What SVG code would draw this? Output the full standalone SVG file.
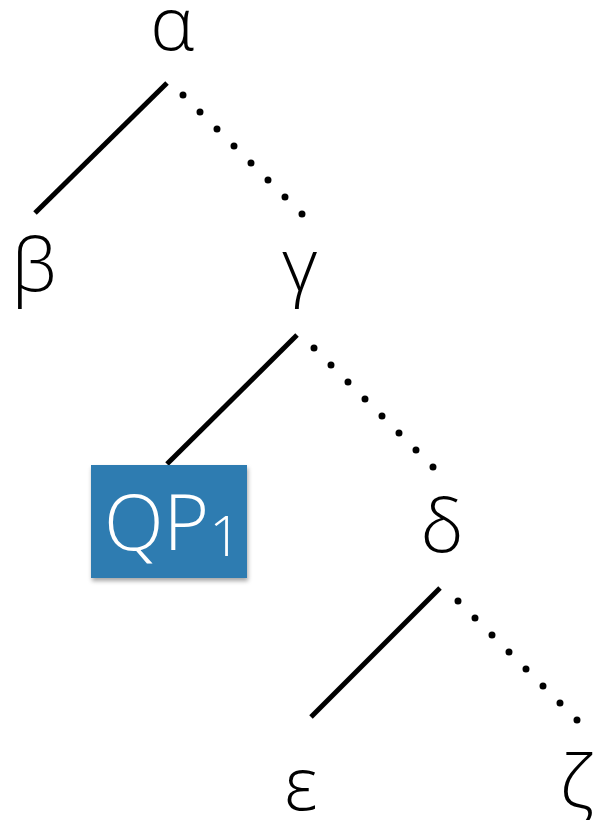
<svg xmlns="http://www.w3.org/2000/svg" width="594" height="820" viewBox="0 0 594 820">
  <style>
    .lbl { font-family: "Open Sans", "Liberation Sans", sans-serif; font-weight: 300; font-size: 74px; fill: #000; text-anchor: middle; }
    .solid { stroke: #000; stroke-width: 5; fill: none; }
    .dots { stroke: #000; stroke-width: 7; stroke-linecap: round; stroke-dasharray: 0 24.04; fill: none; }
    .qp { font-family: "Open Sans", "Liberation Sans", sans-serif; font-weight: 300; fill: #fff; }
  </style>
  <defs>
    <filter id="shadow" x="-10%" y="-10%" width="130%" height="130%">
      <feDropShadow dx="1" dy="3" stdDeviation="2" flood-color="#000" flood-opacity="0.35"/>
    </filter>
  </defs>
  <rect width="594" height="820" fill="#fff"/>

  <g id="connectors">
    <line class="solid" x1="167" y1="83" x2="35" y2="213"/>
    <line class="dots" x1="183" y1="95" x2="302" y2="214"/>
    <line class="solid" x1="297" y1="335" x2="167" y2="464"/>
    <line class="dots" x1="314" y1="348" x2="433" y2="467"/>
    <line class="solid" x1="440" y1="588" x2="311" y2="717"/>
    <line class="dots" x1="458" y1="601" x2="577" y2="720"/>
  </g>

  <g id="alpha"><text class="lbl" x="172" y="50">α</text></g>
  <g id="beta"><text class="lbl" x="34" y="291">β</text></g>
  <g id="gamma"><text class="lbl" x="300" y="291">γ</text></g>
  <g id="qp1">
    <rect x="91" y="465" width="156" height="113" fill="#2F7BB1" filter="url(#shadow)"/>
    <text class="qp" x="104" y="550" font-size="78">QP<tspan font-size="56" dy="6" dx="0">1</tspan></text>
  </g>
  <g id="delta"><text class="lbl" x="442" y="552">δ</text></g>
  <g id="epsilon"><text class="lbl" x="301" y="810">ε</text></g>
  <g id="zeta"><text class="lbl" x="577" y="808">ζ</text></g>
</svg>
